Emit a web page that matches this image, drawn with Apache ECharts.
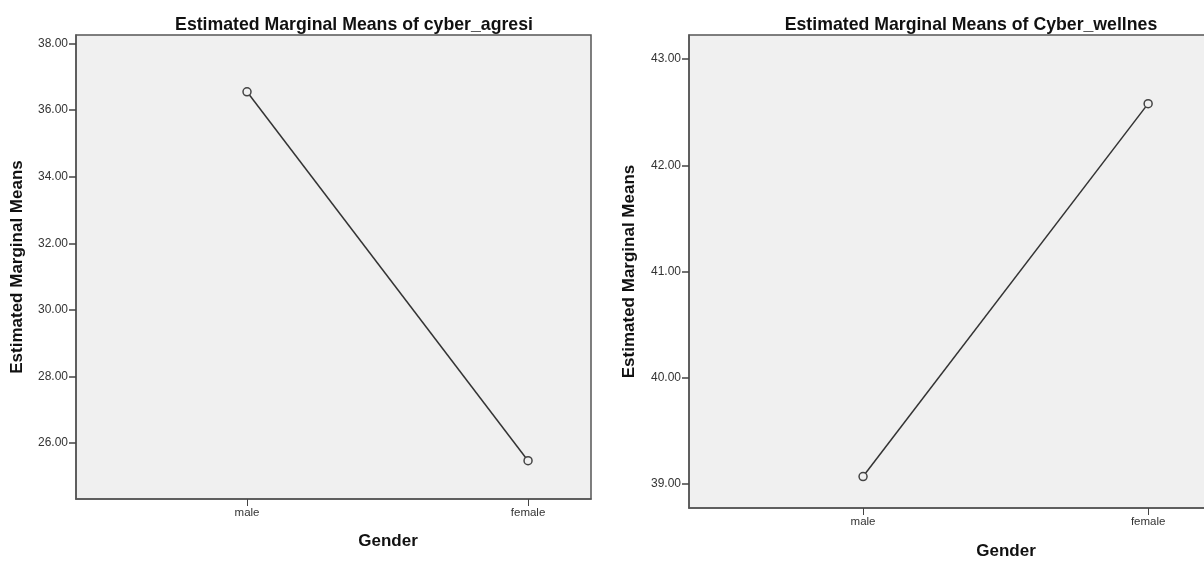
<!DOCTYPE html>
<html>
<head>
<meta charset="utf-8">
<script src="https://cdn.jsdelivr.net/npm/echarts@6/dist/echarts.min.js"></script>
<style>
html,body{margin:0;padding:0;background:#fff;}
#chart{width:1204px;height:561px;}
</style>
</head>
<body>
<div id="chart"></div>
<script>
const categories = ['male', 'female'];
const agresiMeans = [36.55, 25.47];
const wellnesMeans = [39.07, 42.58];
const agresiTicks = [26, 28, 30, 32, 34, 36, 38];
const wellnesTicks = [39, 40, 41, 42, 43];
const titles = ['Estimated Marginal Means of cyber_agresi', 'Estimated Marginal Means of Cyber_wellnes'];
const yName = 'Estimated Marginal Means';
const xName = 'Gender';

const FONT = 'Liberation Sans, Arial, sans-serif';
const catIdx = categories.map((c, i) => i);

function xAxisCfg(gridIndex, min, max, gap, shift) {
  return {
    type: 'value', gridIndex, min, max,
    name: xName, nameLocation: 'middle', nameGap: gap,
    nameTextStyle: { fontFamily: FONT, fontSize: 17, fontWeight: 'bold', color: '#111', padding: [0, 0, 0, shift] },
    axisLine: { show: true, onZero: false, lineStyle: { color: '#555', width: 1.5 } },
    axisTick: { show: true, customValues: catIdx, length: 7, lineStyle: { color: '#444', width: 1 } },
    axisLabel: { customValues: catIdx, margin: 8, fontFamily: FONT, fontSize: 11.5, color: '#333',
      formatter: v => categories[Math.round(v)] },
    splitLine: { show: false }
  };
}
function yAxisCfg(gridIndex, min, max, ticks, gap) {
  return {
    type: 'value', gridIndex, min, max,
    name: yName, nameLocation: 'middle', nameGap: gap,
    nameTextStyle: { fontFamily: FONT, fontSize: 17, fontWeight: 'bold', color: '#111' },
    axisLine: { show: true, onZero: false, lineStyle: { color: '#555', width: 1.5 } },
    axisTick: { show: true, customValues: ticks, length: 7, lineStyle: { color: '#444', width: 1.5 } },
    axisLabel: { customValues: ticks, margin: 8, fontFamily: FONT, fontSize: 12, color: '#333',
      formatter: v => Number(v).toFixed(2) },
    splitLine: { show: false }
  };
}
function seriesCfg(idx, values) {
  return {
    type: 'line', xAxisIndex: idx, yAxisIndex: idx,
    data: values.map((v, i) => [i, v]),
    symbol: 'circle', symbolSize: 8,
    lineStyle: { color: '#333', width: 1.5 },
    itemStyle: { color: '#f0f0f0', borderColor: '#444', borderWidth: 1.5 },
    animation: false, silent: true
  };
}

const chart = echarts.init(document.getElementById('chart'));
chart.setOption({
  backgroundColor: '#ffffff',
  animation: false,
  title: [
    { text: titles[0], left: 349, top: 11, textAlign: 'center',
      textStyle: { fontFamily: FONT, fontSize: 17.7, fontWeight: 'bold', color: '#111' } },
    { text: titles[1], left: 966, top: 11, textAlign: 'center',
      textStyle: { fontFamily: FONT, fontSize: 17.7, fontWeight: 'bold', color: '#111' } }
  ],
  grid: [
    { left: 76, top: 35, width: 515, height: 464, outerBoundsMode: 'none', containLabel: false,
      show: true, backgroundColor: '#f0f0f0', borderColor: '#555', borderWidth: 1.5 },
    { left: 689, top: 35, width: 523, height: 473, outerBoundsMode: 'none', containLabel: false,
      show: true, backgroundColor: '#f0f0f0', borderColor: '#555', borderWidth: 1.5 }
  ],
  xAxis: [
    xAxisCfg(0, -0.6085, 1.224, 34, 109),
    xAxisCfg(1, -0.6105, 1.224, 35, 111)
  ],
  yAxis: [
    yAxisCfg(0, 24.32, 38.255, agresiTicks, 50),
    yAxisCfg(1, 38.774, 43.226, wellnesTicks, 51)
  ],
  series: [seriesCfg(0, agresiMeans), seriesCfg(1, wellnesMeans)]
});
</script>
</body>
</html>
